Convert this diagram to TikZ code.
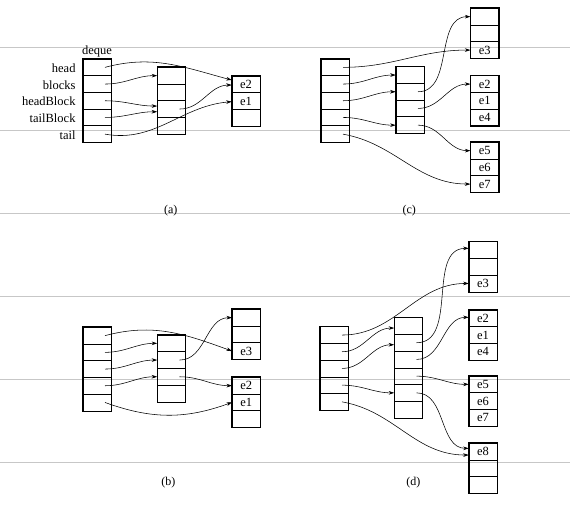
\documentclass[tikz,border=0pt]{standalone}
\usepackage{fontspec}
\setmainfont{Liberation Serif}
\usetikzlibrary{arrows.meta,calc}
\tikzset{
  cell/.style={draw, line width=0.6pt, minimum width=28pt, minimum height=16.7pt, inner sep=0pt, font=\fontsize{12.5}{14}\selectfont},
  frame/.style={line width=1.1pt},
  arr/.style={line width=0.55pt, -{Stealth[length=5.5pt,width=3.6pt]}, out=0, in=180},
  lab/.style={font=\fontsize{12.5}{14}\selectfont, inner sep=0pt},
  captxt/.style={font=\fontsize{12}{14}\selectfont, inner sep=0pt},
  pageline/.style={draw=black!22, line width=0.7pt}
}
\newcommand\blk[4]{%
  \foreach \t [count=\i] in {#4} {
    \node[cell] (#1\i) at ({#2+14},{-(#3+16.7*(\i-0.5))}) {\t};
  }
}
\begin{document}
\begin{tikzpicture}[x=1pt,y=1pt]
\useasboundingbox (0,0) rectangle (570,-505);
% page lines
\foreach \yy in {47.3,130,213.3,296,379.3,462.3}
  \draw[pageline] (0,-\yy) -- (570,-\yy);

% ---------------- (a)
\blk{ad}{83}{59}{{},{},{},{},{}}
\blk{am}{157.5}{67.3}{{},{},{},{}}
\blk{ae}{232}{76}{e2,e1,{}}
\draw[frame] (ad1.north west) rectangle (ad5.south east);
\draw[frame] (am1.north west) rectangle (am4.south east);
\draw[frame] (ae1.north west) rectangle (ae3.south east);
\node[lab,anchor=base] (dq) at ($(ad1.north)+(0,4.5)$) {deque};
\node[lab,anchor=base east] (l1) at ($(ad1.west)+(-7,-5)$) {head};
\node[lab,anchor=base east] (l2) at ($(ad2.west)+(-7,-5)$) {blocks};
\node[lab,anchor=base east] (l3) at ($(ad3.west)+(-7,-5)$) {headBlock};
\node[lab,anchor=base east] (l4) at ($(ad4.west)+(-7,-5)$) {tailBlock};
\node[lab,anchor=base east] (l5) at ($(ad5.west)+(-7,-5)$) {tail};
\draw[arr,out=15,in=165] ($(ad1.center)+(8,0)$) to ($(ae1.west)+(0,4.3)$);
\draw[arr] ($(ad2.center)+(8,0)$) to (am1.west);
\draw[arr] ($(ad3.center)+(8,0)$) to ($(am3.west)+(0,3)$);
\draw[arr] ($(ad4.center)+(8,0)$) to ($(am3.west)+(0,-2.7)$);
\draw[arr] ($(am3.center)+(8,0)$) to ($(ae1.west)+(0,-0.7)$);
\draw[arr,out=-10,in=185] ($(ad5.center)+(8,0)$) to ($(ae2.west)+(0,-0.6)$);
\node[captxt] (capa) at (170.7,-210.7) {(a)};

% ---------------- (c)
\blk{cd}{321}{59}{{},{},{},{},{}}
\blk{cm}{396}{66.7}{{},{},{},{}}
\blk{cx}{470.7}{8.3}{{},{},e3}
\blk{cy}{470.7}{75.7}{e2,e1,e4}
\blk{cz}{470.7}{142.3}{e5,e6,e7}
\draw[frame] (cd1.north west) rectangle (cd5.south east);
\draw[frame] (cm1.north west) rectangle (cm4.south east);
\draw[frame] (cx1.north west) rectangle (cx3.south east);
\draw[frame] (cy1.north west) rectangle (cy3.south east);
\draw[frame] (cz1.north west) rectangle (cz3.south east);
\draw[arr] ($(cd1.center)+(8,0)$) to (cx3.west);
\draw[arr] ($(cd2.center)+(8,0)$) to (cm1.west);
\draw[arr] ($(cd3.center)+(8,0)$) to (cm2.west);
\draw[arr] ($(cd4.center)+(8,0)$) to (cm4.west);
\draw[arr,out=-10] ($(cd5.center)+(8,0)$) to (cz3.west);
\draw[arr] ($(cm2.center)+(8,0)$) to (cx1.west);
\draw[arr] ($(cm3.center)+(8,0)$) to (cy1.west);
\draw[arr] ($(cm4.center)+(8,0)$) to (cz1.west);
\node[captxt] (capc) at (409.3,-210.7) {(c)};

% ---------------- (b)
\blk{bd}{83}{327.3}{{},{},{},{},{}}
\blk{bm}{157.5}{335}{{},{},{},{}}
\blk{bx}{232.3}{309.3}{{},{},e3}
\blk{by}{232.3}{377.3}{e2,e1,{}}
\draw[frame] (bd1.north west) rectangle (bd5.south east);
\draw[frame] (bm1.north west) rectangle (bm4.south east);
\draw[frame] (bx1.north west) rectangle (bx3.south east);
\draw[frame] (by1.north west) rectangle (by3.south east);
\draw[arr,out=15,in=160] ($(bd1.center)+(8,0)$) to (bx3.west);
\draw[arr] ($(bd2.center)+(8,0)$) to (bm1.west);
\draw[arr] ($(bd3.center)+(8,0)$) to (bm2.west);
\draw[arr] ($(bd4.center)+(8,0)$) to (bm3.west);
\draw[arr,out=-20,in=200] ($(bd5.center)+(8,0)$) to (by2.west);
\draw[arr] ($(bm2.center)+(8,0)$) to (bx1.west);
\draw[arr] ($(bm3.center)+(8,0)$) to (by1.west);
\node[captxt] (capb) at (168.3,-482.7) {(b)};

% ---------------- (d)
\blk{dd}{320}{326.7}{{},{},{},{},{}}
\blk{dm}{394.5}{317.7}{{},{},{},{},{},{}}
\blk{dw}{469}{241.7}{{},{},e3}
\blk{dx}{469}{310}{e2,e1,e4}
\blk{dy}{469}{376}{e5,e6,e7}
\blk{dz}{469}{443.3}{e8,{},{}}
\draw[frame] (dd1.north west) rectangle (dd5.south east);
\draw[frame] (dm1.north west) rectangle (dm6.south east);
\draw[frame] (dw1.north west) rectangle (dw3.south east);
\draw[frame] (dx1.north west) rectangle (dx3.south east);
\draw[frame] (dy1.north west) rectangle (dy3.south east);
\draw[frame] (dz1.north west) rectangle (dz3.south east);
\draw[arr] ($(dd1.center)+(8,0)$) to (dw3.west);
\draw[arr] ($(dd2.center)+(8,0)$) to ($(dm1.west)+(0,-2)$);
\draw[arr] ($(dd3.center)+(8,0)$) to ($(dm2.west)+(0,-2)$);
\draw[arr] ($(dd4.center)+(8,0)$) to (dm5.west);
\draw[arr,out=-10] ($(dd5.center)+(8,0)$) to ($(dz1.west)+(0,-3.4)$);
\draw[arr] ($(dm2.center)+(8,0)$) to ($(dw1.west)+(0,1.7)$);
\draw[arr] ($(dm3.center)+(8,0)$) to ($(dx1.west)+(0,1)$);
\draw[arr] ($(dm4.center)+(8,0)$) to (dy1.west);
\draw[arr] ($(dm5.center)+(8,0)$) to ($(dz1.west)+(0,3.3)$);
\node[captxt] (capd) at (413.3,-482.7) {(d)};
\end{tikzpicture}
\end{document}
